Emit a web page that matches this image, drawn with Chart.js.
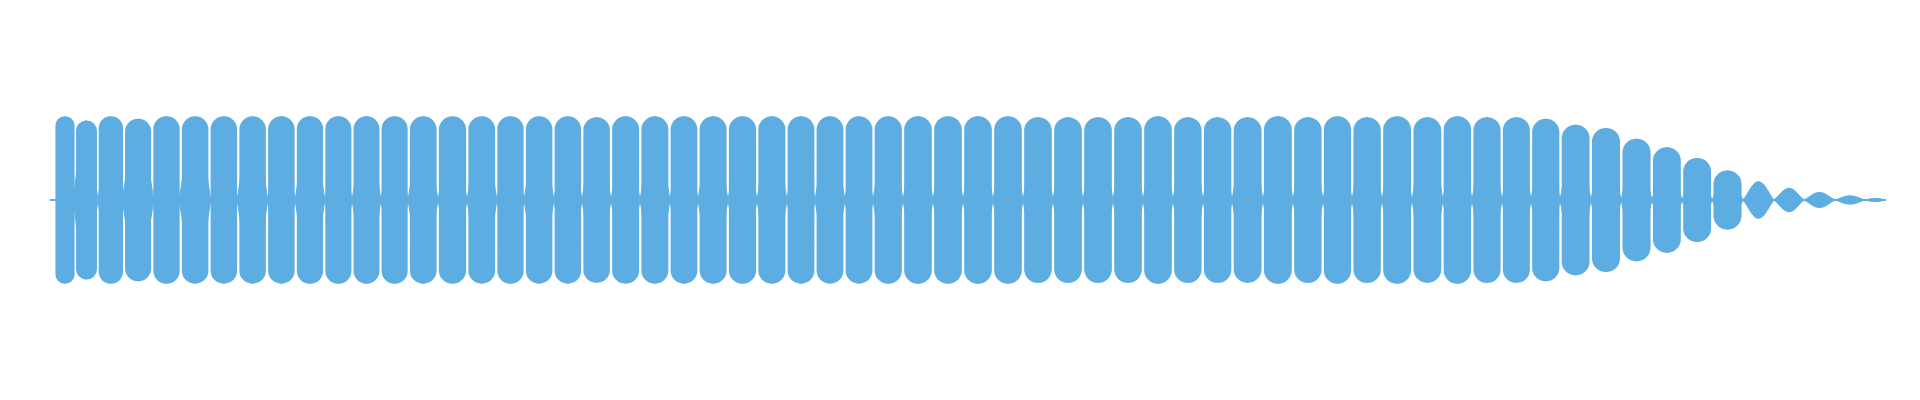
<!DOCTYPE html>
<html>
<head>
<meta charset="utf-8">
<script src="https://cdn.jsdelivr.net/npm/chart.js@4/dist/chart.umd.min.js"></script>
<style>
  html, body { margin: 0; padding: 0; background: #ffffff; }
  #wrap { width: 1920px; height: 400px; }
</style>
</head>
<body>
<div id="wrap"><canvas id="waveChart"></canvas></div>
<script>
// zero crossings of the envelope, in ms from the start of the clip
var zeroCrossings = [7, 23, 48, 72, 104, 129, 161, 187, 218, 245, 275, 302, 331, 358, 388, 417,
    447, 474, 504, 532, 561, 590, 620, 648, 678, 707, 737, 765, 795, 823, 853, 883, 913, 943,
    973, 1003, 1033, 1063, 1093, 1123, 1153, 1182, 1213, 1243, 1273, 1302, 1332, 1362, 1393,
    1422, 1452, 1481, 1510, 1541, 1571, 1602, 1632, 1662, 1693, 1724, 1754, 1785, 1815, 1836];

// peak amplitude of each lobe (normalised, 1 = full scale)
var peakAmplitude = [1.00, 0.95, 1.00, 0.97, 1.00, 1.00, 1.00, 1.00, 1.00, 1.00, 1.00, 1.00,
    1.00, 1.00, 1.00, 1.00, 1.00, 1.00, 1.00, 0.99, 1.00, 1.00, 1.00, 1.00, 1.00, 1.00, 1.00,
    1.00, 1.00, 1.00, 1.00, 1.00, 1.00, 1.00, 0.99, 0.99, 0.99, 0.99, 1.00, 0.99, 0.99, 0.99,
    1.00, 0.99, 1.00, 0.99, 1.00, 0.99, 1.00, 0.99, 0.99, 0.97, 0.90, 0.86, 0.73, 0.63, 0.50,
    0.35, 0.22, 0.14, 0.09, 0.05, 0.02];

var clipStart = 0;
var clipEnd = 1836;

var waveColor = '#5DADE2';

document.addEventListener('DOMContentLoaded', function () {
    var upper = [], lower = [], loud = [];
    for (var i = 0; i < peakAmplitude.length; i++) {
        var a = zeroCrossings[i], b = zeroCrossings[i + 1], amp = peakAmplitude[i];
        var mid = (a + b) / 2;
        upper.push({ x: a, y: 0 }, { x: mid, y: amp }, { x: b, y: 0 });
        lower.push({ x: a, y: 0 }, { x: mid, y: -amp }, { x: b, y: 0 });
        // louder lobes are rounded boxes, the quiet tail stays lens shaped
        if (amp >= 0.3) loud.push({ x: mid, y: [-amp, amp] });
    }
    var baseline = [{ x: clipStart, y: 0 }, { x: clipEnd, y: 0 }];

    var envelope = {
        type: 'line',
        borderColor: waveColor,
        backgroundColor: waveColor,
        borderWidth: 1,
        tension: 0.4,
        fill: 'origin',
        pointRadius: 0
    };

    var ctx = document.getElementById('waveChart').getContext('2d');
    new Chart(ctx, {
        type: 'bar',
        data: {
            datasets: [{
                type: 'line',
                data: baseline,
                borderColor: waveColor,
                borderWidth: 2,
                pointRadius: 0
            },
            Object.assign({ data: upper }, envelope),
            Object.assign({ data: lower }, envelope),
            {
                type: 'bar',
                data: loud,
                backgroundColor: waveColor,
                borderRadius: 999,
                borderSkipped: false,
                barThickness: 'flex',
                barPercentage: 0.9,
                categoryPercentage: 1
            }]
        },
        options: {
            responsive: true,
            maintainAspectRatio: false,
            animation: false,
            layout: { padding: 0, autoPadding: false },
            plugins: {
                legend: { display: false },
                tooltip: { enabled: false }
            },
            scales: {
                x: { type: 'linear', min: -50, max: 1870, offset: false, display: false },
                y: { min: -2.4, max: 2.4, display: false }
            }
        }
    });
});
</script>
</body>
</html>
